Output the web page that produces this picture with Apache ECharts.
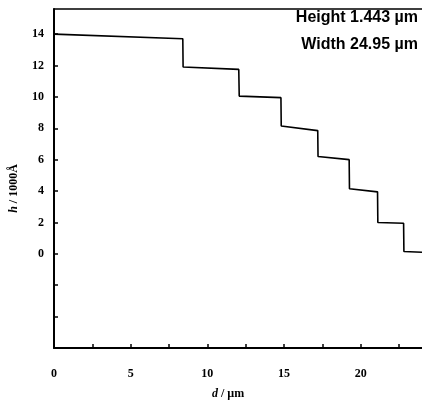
<!DOCTYPE html>
<html>
<head>
<meta charset="utf-8">
<script src="https://cdn.jsdelivr.net/npm/echarts@6/dist/echarts.min.js"></script>
<style>
  html, body { margin: 0; padding: 0; background: #fff; }
  #main { width: 422px; height: 406px; }
</style>
</head>
<body>
<div id="main"></div>
<script>
var chartDom = document.getElementById('main');
var myChart = echarts.init(chartDom);
var option;

// profile: d (um) and h (1000 A), corners of the step profile
const stepX = [0, 8.4, 8.42, 12.05, 12.08, 14.8, 14.82, 17.2, 17.22, 19.25, 19.27, 21.1, 21.12, 22.8, 22.82, 24];
const stepY = [14.0, 13.7, 11.9, 11.75, 10.05, 9.95, 8.15, 7.85, 6.2, 6.0, 4.15, 3.95, 2.0, 1.95, 0.15, 0.1];
const yTicks = [0, 2, 4, 6, 8, 10, 12, 14];
const xTicks = [0, 5, 10, 15, 20];
const notes = ['Height 1.443 \u00b5m', 'Width 24.95 \u00b5m'];

const profile = stepX.map(function (x, i) { return [x, stepY[i]]; });

const labelFont = {
  color: '#000',
  fontFamily: 'Liberation Serif',
  fontWeight: 'bold',
  fontSize: 12
};

option = {
  animation: false,
  grid: { left: 54, right: 0, top: 9, bottom: 58 },
  xAxis: [
    {
      type: 'value',
      min: 0,
      max: 24,
      interval: 2.5,
      name: '{i|d} / \u00b5m',
      nameLocation: 'middle',
      nameGap: 40,
      nameTextStyle: Object.assign({}, labelFont, {
        padding: [0, 20, 0, 0],
        rich: { i: Object.assign({}, labelFont, { fontStyle: 'italic' }) }
      }),
      axisLine: { onZero: false, lineStyle: { color: '#000', width: 2 } },
      axisTick: { inside: true, length: 4, lineStyle: { color: '#000', width: 1.5 } },
      axisLabel: Object.assign({}, labelFont, {
        margin: 20,
        showMaxLabel: false,
        formatter: function (v) { return xTicks.indexOf(v) >= 0 ? String(v) : ''; }
      }),
      splitLine: { show: false }
    },
    {
      type: 'value',
      position: 'top',
      min: 0,
      max: 24,
      axisLine: { show: true, onZero: false, lineStyle: { color: '#000', width: 1.5 } },
      axisTick: { show: false },
      axisLabel: { show: false },
      splitLine: { show: false }
    }
  ],
  yAxis: {
    type: 'value',
    min: -6,
    max: 15.6,
    interval: 2,
    name: '{i|h} / 1000\u00c5',
    nameLocation: 'middle',
    nameGap: 34,
    nameRotate: 90,
    nameTextStyle: Object.assign({}, labelFont, {
      padding: [0, 20, 0, 0],
      rich: { i: Object.assign({}, labelFont, { fontStyle: 'italic' }) }
    }),
    axisLine: { onZero: false, lineStyle: { color: '#000', width: 2 } },
    axisTick: { inside: true, length: 4, lineStyle: { color: '#000', width: 1.5 } },
    axisLabel: Object.assign({}, labelFont, {
      margin: 10,
      showMaxLabel: false,
      formatter: function (v) { return yTicks.indexOf(v) >= 0 ? String(v) : ''; }
    }),
    splitLine: { show: false }
  },
  graphic: [
    {
      type: 'text',
      right: 4,
      top: 10,
      style: {
        text: notes[0],
        fill: '#000',
        font: 'bold 16px "Liberation Sans Narrow", "Liberation Sans", sans-serif'
      }
    },
    {
      type: 'text',
      right: 4,
      top: 37,
      style: {
        text: notes[1],
        fill: '#000',
        font: 'bold 16px "Liberation Sans Narrow", "Liberation Sans", sans-serif'
      }
    }
  ],
  series: [
    {
      type: 'line',
      data: profile,
      showSymbol: false,
      symbol: 'none',
      lineStyle: { color: '#000', width: 1.6 }
    }
  ]
};

option && myChart.setOption(option);
</script>
</body>
</html>
